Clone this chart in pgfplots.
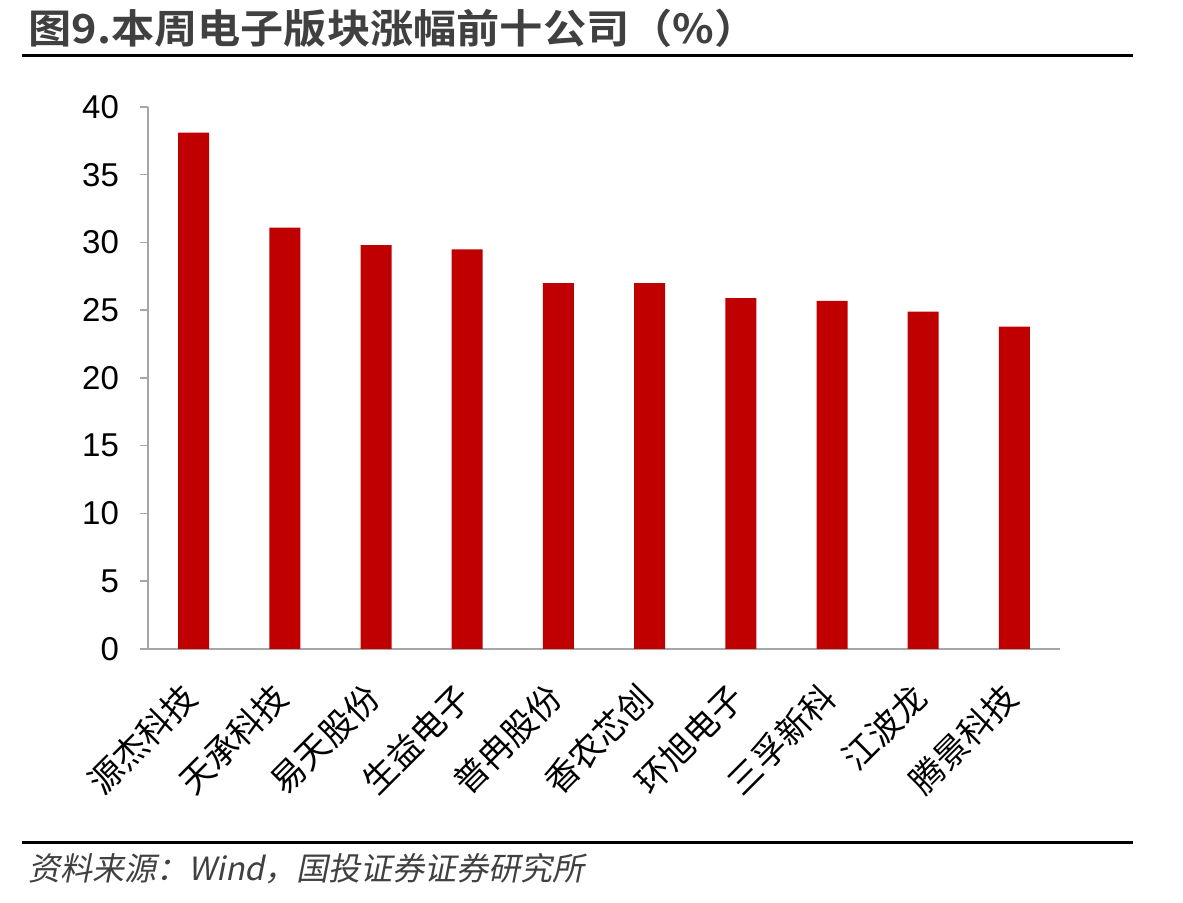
\documentclass[border=0pt]{standalone}
\usepackage{fontspec}
\setmainfont{Liberation Sans}
\newfontfamily\cjk{Noto Sans CJK SC}
\newfontfamily\cjkb{Noto Sans CJK SC Bold}
\newfontfamily\cjkit{Noto Sans CJK SC}[FakeSlant=0.2]
\usepackage{pgfplots}
\pgfplotsset{compat=1.18}
\definecolor{barred}{HTML}{C00000}
\definecolor{axgray}{HTML}{A6A6A6}
\definecolor{txtgray}{HTML}{404040}
\begin{document}
\begin{tikzpicture}
\path[use as bounding box] (0,0) rectangle (591.5pt,451.5pt);
\node[anchor=base west, inner sep=0pt, text=txtgray] at (14pt,429.5pt) {\scalebox{1.08}[1.0]{\cjkb\fontsize{20pt}{20pt}\selectfont 图9.本周电子版块涨幅前十公司（\%）}};
\draw[line width=1.5pt, black] (11pt,423.5pt) -- (566.5pt,423.5pt);
\draw[line width=1.5pt, black] (11pt,30pt) -- (566.5pt,30pt);
\node[anchor=base west, inner sep=0pt, text=txtgray] at (14pt,11pt) {\cjkit\fontsize{16pt}{16pt}\selectfont 资料来源：Wind，国投证券证券研究所};
\begin{axis}[
  at={(74pt,127pt)}, anchor=south west,
  scale only axis, width=456pt, height=271pt,
  xmin=-0.5, xmax=9.5, ymin=0, ymax=40,
  ytick={0,5,...,40},
  xtick={0,...,9},
  xticklabels={源杰科技,天承科技,易天股份,生益电子,普冉股份,香农芯创,环旭电子,三孚新科,江波龙,腾景科技},
  axis x line=bottom, axis y line=left,
  axis line style={-, draw=axgray, line width=0.75pt},
  x axis line style={-},
  y axis line style={-},
  tick align=outside,
  major tick length=4pt,
  ytick style={draw=axgray, line width=0.75pt},
  xtick style={draw=none},
  tick label style={font=\fontsize{16.5pt}{16.5pt}\selectfont},
  yticklabel style={xshift=-7pt},
  xticklabel style={font=\cjk\fontsize{17pt}{17pt}\selectfont, xshift=-7pt, yshift=-11.5pt, rotate=45, anchor=north east, inner sep=0pt},
  /pgf/number format/assume math mode=true,
  clip=false,
]
\addplot[ybar, bar width=15.5pt, fill=barred, draw=none] coordinates {
(0,38.1) (1,31.1) (2,29.8) (3,29.5) (4,27.0) (5,27.0) (6,25.9) (7,25.7) (8,24.9) (9,23.8)
};
\end{axis}
\end{tikzpicture}
\end{document}
